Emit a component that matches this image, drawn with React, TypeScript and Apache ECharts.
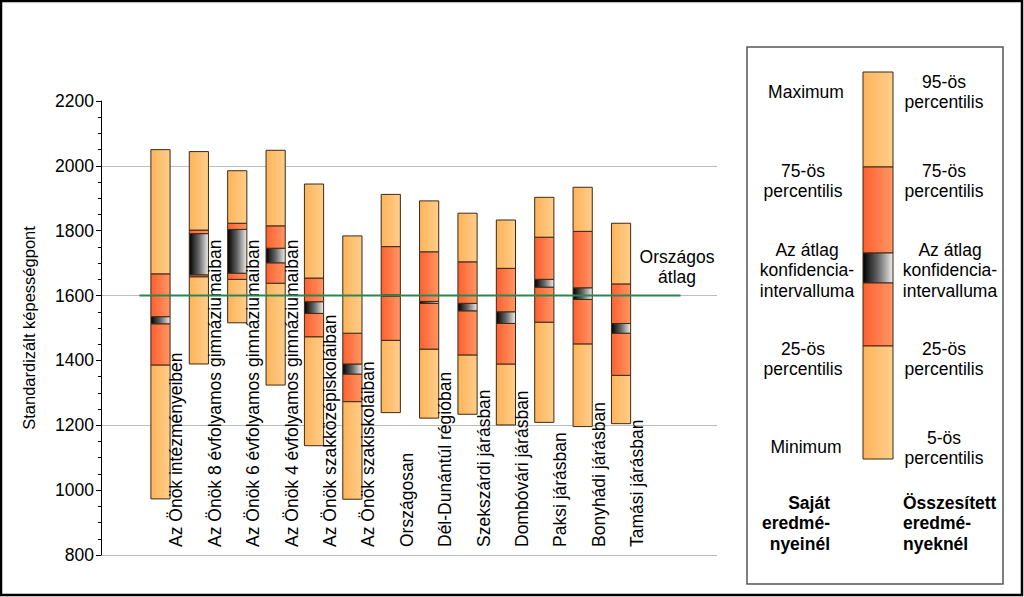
import React, { useEffect, useRef } from "react";
import * as echarts from "echarts";

const categories = [
  "Az Önök intézményeiben",
  "Az Önök 8 évfolyamos gimnáziumaiban",
  "Az Önök 6 évfolyamos gimnáziumaiban",
  "Az Önök 4 évfolyamos gimnáziumaiban",
  "Az Önök szakközépiskoláiban",
  "Az Önök szakiskoláiban",
  "Országosan",
  "Dél-Dunántúl régióban",
  "Szekszárdi járásban",
  "Dombóvári járásban",
  "Paksi járásban",
  "Bonyhádi járásban",
  "Tamási járásban",
];
const minValues = [973, 1389, 1516, 1324, 1137, 972, 1239, 1222, 1234, 1201, 1209, 1196, 1205];
const p25Values = [1386, 1658, 1650, 1638, 1473, 1273, 1462, 1435, 1417, 1389, 1518, 1451, 1354];
const ciLowValues = [1513, 1664, 1669, 1701, 1545, 1358, 1598, 1576, 1553, 1514, 1626, 1588, 1484];
const ciHighValues = [1535, 1791, 1804, 1746, 1581, 1389, 1602, 1582, 1576, 1550, 1650, 1624, 1514];
const p75Values = [1667, 1802, 1823, 1815, 1654, 1484, 1751, 1735, 1704, 1684, 1780, 1798, 1636];
const maxValues = [2050, 2044, 1985, 2048, 1944, 1784, 1912, 1892, 1854, 1833, 1903, 1934, 1823];
const nationalAverage = 1600;
const yMin = 800;
const yMax = 2200;
const yStep = 200;

const FONT = "'Liberation Sans', Arial, sans-serif";
const STROKE = "#3c2a14";

const grad = (a: string, b: string, c?: string) => ({
  type: "linear",
  x: 0,
  y: 0,
  x2: 1,
  y2: 0,
  colorStops: c
    ? [
        { offset: 0, color: a },
        { offset: 0.5, color: b },
        { offset: 1, color: c },
      ]
    : [
        { offset: 0, color: a },
        { offset: 1, color: b },
      ],
});
const lightFill = () => grad("#fdb45a", "#ffcd8a");
const redFill = () => grad("#ff6030", "#ff9664");
const blackFill = () => grad("#000000", "#666666", "#eeeeee");

export default function App() {
  const ref = useRef<HTMLDivElement>(null);
  useEffect(() => {
    if (!ref.current) return;
    const chart = echarts.init(ref.current, undefined, { renderer: "svg" });

    const data = categories.map((_, i) => [
      i + 1.55,
      minValues[i],
      p25Values[i],
      ciLowValues[i],
      ciHighValues[i],
      p75Values[i],
      maxValues[i],
    ]);

    const renderItem = (params: any, api: any) => {
      const i = params.dataIndex;
      const x = api.value(0);
      const v = [1, 2, 3, 4, 5, 6].map((k) => api.value(k));
      const w = api.size([0.5, 0])[0];
      const cx = api.coord([x, yMin])[0];
      const yOf = (val: number) => api.coord([x, val])[1];
      const segs: [number, number, any][] = [
        [v[0], v[1], lightFill()],
        [v[1], v[2], redFill()],
        [v[2], v[3], blackFill()],
        [v[3], v[4], redFill()],
        [v[4], v[5], lightFill()],
      ];
      const children: any[] = segs.map(([lo, hi, fill]) => {
        const yTop = yOf(Math.max(lo, hi));
        const yBot = yOf(Math.min(lo, hi));
        return {
          type: "rect",
          shape: { x: cx - w / 2, y: yTop, width: w, height: yBot - yTop },
          style: { fill, stroke: STROKE, lineWidth: 1 },
        };
      });
      const cs = params.coordSys;
      children.push({
        type: "text",
        x: cx + 16,
        y: cs.y + cs.height - 8,
        rotation: Math.PI / 2,
        style: {
          text: categories[i],
          align: "left",
          verticalAlign: "middle",
          fontSize: 17.5,
          fontFamily: FONT,
          fill: "#000",
        },
      });
      return { type: "group", children };
    };

    const legendText = (
      text: string,
      x: number,
      y: number,
      align = "center",
      bold = false
    ) => ({
      type: "text",
      x,
      y,
      style: {
        text,
        align,
        verticalAlign: "middle",
        fontSize: 17.5,
        lineHeight: 20.5,
        fontWeight: bold ? "bold" : "normal",
        fontFamily: FONT,
        fill: "#000",
      },
    });

    const lb = { x: 863, w: 30 };
    const legendSegs: [number, number, any][] = [
      [72, 167, lightFill()],
      [167, 253, redFill()],
      [253, 283, blackFill()],
      [283, 346, redFill()],
      [346, 459, lightFill()],
    ];

    chart.setOption({
      animation: false,
      grid: { left: 101, top: 101, width: 616, height: 454, containLabel: false },
      xAxis: { type: "value", min: 0, max: 16.05, show: false },
      yAxis: {
        type: "value",
        min: yMin,
        max: yMax,
        interval: yStep,
        name: "Standardizált képességpont",
        nameLocation: "middle",
        nameGap: 64,
        nameTextStyle: { fontSize: 16.5, color: "#000", fontFamily: FONT },
        axisLine: { show: true, lineStyle: { color: "#000", width: 1 } },
        axisTick: { show: true, length: 5, lineStyle: { color: "#000" } },
        minorTick: { show: true, splitNumber: 4, length: 3, lineStyle: { color: "#000" } },
        axisLabel: {
          margin: 7,
          fontSize: 17.5,
          color: "#000",
          fontFamily: FONT,
          formatter: (val: number) => String(val),
        },
        splitLine: {
          show: true,
          lineStyle: { color: ["#bdbdbd", "rgba(0,0,0,0)"], width: 1 },
        },
      },
      series: [
        {
          type: "custom",
          renderItem,
          clip: false,
          data,
          encode: { x: 0, y: [1, 2, 3, 4, 5, 6] },
          z: 2,
        },
        {
          type: "line",
          data: [
            [1.0, nationalAverage],
            [15.1, nationalAverage],
          ],
          symbol: "none",
          lineStyle: { color: "#2a8650", width: 2 },
          z: 10,
          silent: true,
        },
      ],
      graphic: [
        {
          type: "rect",
          shape: { x: 1, y: 1, width: 1021, height: 594 },
          style: { fill: "none", stroke: "#000", lineWidth: 2.5 },
        },
        legendText("Országos\nátlag", 677, 267),
        {
          type: "rect",
          shape: { x: 747, y: 47, width: 256, height: 537 },
          style: { fill: "none", stroke: "#555", lineWidth: 1.5 },
        },
        ...legendSegs.map(([a, b, fill]) => ({
          type: "rect",
          shape: { x: lb.x, y: a, width: lb.w, height: b - a },
          style: { fill, stroke: STROKE, lineWidth: 1 },
        })),
        legendText("Maximum", 806, 92),
        legendText("75-ös\npercentilis", 803, 181),
        legendText("Az átlag\nkonfidencia-\nintervalluma", 807, 270),
        legendText("25-ös\npercentilis", 803, 359),
        legendText("Minimum", 806, 447),
        legendText("95-ös\npercentilis", 944, 92),
        legendText("75-ös\npercentilis", 944, 181),
        legendText("Az átlag\nkonfidencia-\nintervalluma", 950, 270),
        legendText("25-ös\npercentilis", 944, 359),
        legendText("5-ös\npercentilis", 944, 448),
        legendText("Saját\neredmé-\nnyeinél", 830, 523, "right", true),
        legendText("Összesített\neredmé-\nnyeknél", 903, 523, "left", true),
      ],
    });
    return () => chart.dispose();
  }, []);
  return (
    <div
      ref={ref}
      style={{ position: "absolute", left: 0, top: 0, width: 1024, height: 597, background: "#fff" }}
    />
  );
}
